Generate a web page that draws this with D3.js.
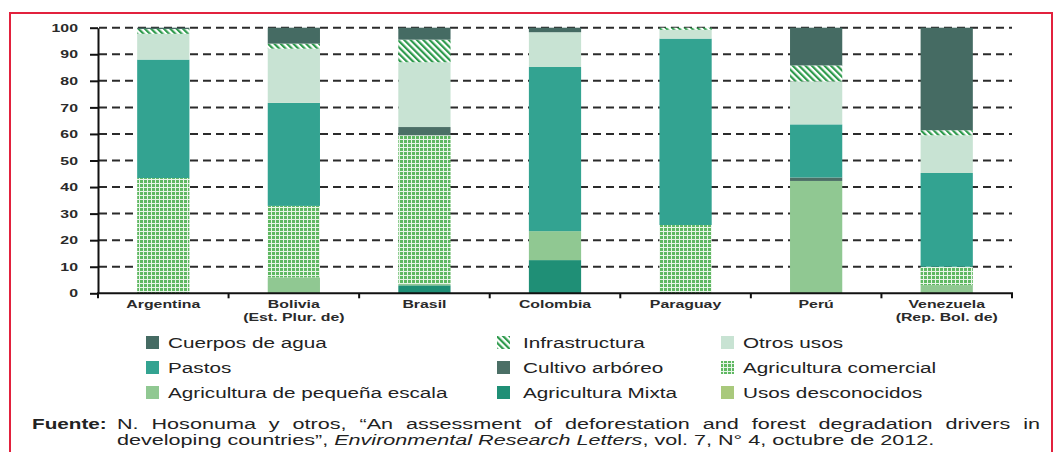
<!DOCTYPE html>
<html>
<head>
<meta charset="utf-8">
<script src="https://cdn.jsdelivr.net/npm/d3@7"></script>
<style>
  body { margin: 0; background: #fff; }
  svg { display: block; font-family: "Liberation Sans", Arial, sans-serif; }
</style>
</head>
<body>
<svg id="chart" width="1063" height="452"></svg>
<script>
// categories and their second label line
var categories = ["Argentina", "Bolivia", "Brasil", "Colombia", "Paraguay", "Perú", "Venezuela"];
var subLabels = ["", "(Est. Plur. de)", "", "", "", "", "(Rep. Bol. de)"];

// series values (percent), bottom to top of stack
var usosDesconocidos   = [0, 0, 0, 0, 0, 0, 0];
var agriMixta          = [0, 0, 3.0, 12.5, 0, 0, 0];
var agriPequena        = [0, 6.0, 0.5, 10.9, 0, 42.3, 3.1];
var agriComercial      = [43.4, 26.9, 56.0, 0, 25.7, 0, 6.9];
var cultivoArboreo     = [0, 0, 3.1, 0, 0, 1.3, 0];
var pastos             = [44.6, 38.8, 0, 61.8, 70.2, 20.0, 35.3];
var otrosUsos          = [9.7, 20.4, 24.4, 13.1, 3.3, 16.2, 14.2];
var infraestructura    = [1.8, 1.9, 8.5, 0, 0.8, 6.0, 1.9];
var cuerposAgua        = [0.5, 6.0, 4.5, 1.7, 0, 14.2, 38.6];

var yTicks = [0, 10, 20, 30, 40, 50, 60, 70, 80, 90, 100];

var series = [
  {key: "desc", name: "Usos desconocidos", values: usosDesconocidos, fill: "#a9c97c"},
  {key: "mixta", name: "Agricultura Mixta", values: agriMixta, fill: "#1f8f76"},
  {key: "peq", name: "Agricultura de pequeña escala", values: agriPequena, fill: "#90c892"},
  {key: "com", name: "Agricultura comercial", values: agriComercial, fill: "url(#gridPat)"},
  {key: "cult", name: "Cultivo arbóreo", values: cultivoArboreo, fill: "#4b6f66"},
  {key: "pastos", name: "Pastos", values: pastos, fill: "#33a391"},
  {key: "otros", name: "Otros usos", values: otrosUsos, fill: "#c8e3d3"},
  {key: "infra", name: "Infrastructura", values: infraestructura, fill: "url(#stripePat)"},
  {key: "agua", name: "Cuerpos de agua", values: cuerposAgua, fill: "#456b63"}
];

// legend layout: rows of three
var legendOrder = [
  ["agua", "infra", "otros"],
  ["pastos", "cult", "com"],
  ["peq", "mixta", "desc"]
];

// the source picture is stretched sideways, so text is too
var S = 1.38;
var S_SRC = 1.44;

var svg = d3.select("#chart");

// patterns
var defs = svg.append("defs");
var gp = defs.append("pattern").attr("id", "gridPat")
  .attr("patternUnits", "userSpaceOnUse").attr("width", 4).attr("height", 4);
gp.append("rect").attr("width", 4).attr("height", 4).attr("fill", "#5fb862");
gp.append("rect").attr("x", 3).attr("width", 1).attr("height", 4).attr("fill", "#e8f5e8");
gp.append("rect").attr("y", 3).attr("width", 4).attr("height", 1).attr("fill", "#e8f5e8");

var sp = defs.append("pattern").attr("id", "stripePat")
  .attr("patternUnits", "userSpaceOnUse").attr("width", 4.5).attr("height", 4.5)
  .attr("patternTransform", "rotate(-45)");
sp.append("rect").attr("width", 4.5).attr("height", 4.5).attr("fill", "#fff");
sp.append("rect").attr("width", 2.2).attr("height", 4.5).attr("fill", "#2e9a4c");

// red frame
svg.append("path")
  .attr("d", "M10,460 L10,13 L1052,13 L1052,460")
  .attr("fill", "none").attr("stroke", "#e2213d").attr("stroke-width", 2);

var x = d3.scaleBand().domain(categories).range([98, 1012])
  .paddingInner(0.6).paddingOuter(0.3);
var y = d3.scaleLinear().domain([0, 100]).range([293.3, 27.7]);

// dashed gridlines
svg.append("g").selectAll("line")
  .data(yTicks.filter(function(d) { return d > 0; }))
  .enter().append("line")
    .attr("x1", 99).attr("x2", 1012)
    .attr("y1", function(d) { return y(d); })
    .attr("y2", function(d) { return y(d); })
    .attr("stroke", "#2b2b2b").attr("stroke-width", 2)
    .attr("stroke-dasharray", "8,5");

// stacked bars
var rows = categories.map(function(c, i) {
  var r = {cat: c};
  series.forEach(function(s) { r[s.key] = s.values[i]; });
  return r;
});
var stack = d3.stack().keys(series.map(function(s) { return s.key; }));
var layers = stack(rows);

svg.append("g").selectAll("g")
  .data(layers)
  .enter().append("g")
    .attr("fill", function(d, i) { return series[i].fill; })
  .selectAll("rect")
  .data(function(d) { return d; })
  .enter().append("rect")
    .attr("x", function(d) { return x(d.data.cat); })
    .attr("width", x.bandwidth())
    .attr("y", function(d) { return y(d[1]); })
    .attr("height", function(d) { return Math.max(0, y(d[0]) - y(d[1])); });

// y axis
var yAxis = svg.append("g")
  .attr("transform", "translate(98,0)")
  .call(d3.axisLeft(y).tickValues(yTicks).tickSize(8).tickSizeOuter(0));
yAxis.select(".domain").attr("stroke", "#111").attr("stroke-width", 2);
yAxis.selectAll(".tick line").attr("stroke", "#111").attr("stroke-width", 2);
yAxis.selectAll(".tick text")
  .attr("x", -20 / S)
  .attr("transform", "scale(" + S + ",1)")
  .attr("fill", "#2a2a2a").style("font-size", "11.5px").style("font-weight", "bold");

// x axis line and boundary ticks
svg.append("line")
  .attr("x1", 97).attr("x2", 1013)
  .attr("y1", y(0)).attr("y2", y(0))
  .attr("stroke", "#111").attr("stroke-width", 2);
svg.append("g").selectAll("line")
  .data(d3.range(categories.length + 1))
  .enter().append("line")
    .attr("x1", function(i) { return 98 + i * x.step(); })
    .attr("x2", function(i) { return 98 + i * x.step(); })
    .attr("y1", y(0)).attr("y2", y(0) + 5)
    .attr("stroke", "#111").attr("stroke-width", 2);

var labels = svg.append("g").selectAll("text")
  .data(categories)
  .enter().append("text")
    .attr("transform", function(d) {
      return "translate(" + (x(d) + x.bandwidth() / 2) + ",307.5) scale(" + S + ",1)";
    })
    .attr("text-anchor", "middle")
    .attr("fill", "#2a2a2a")
    .style("font-size", "11.5px")
    .style("font-weight", "bold");
labels.append("tspan").text(function(d) { return d; });
labels.append("tspan")
  .attr("x", 0)
  .attr("dy", 14)
  .text(function(d, i) { return subLabels[i]; });

// legend
var colX = [[146, 168], [497, 523], [721, 743]];
var rowY = [349, 374, 399];
var byKey = {};
series.forEach(function(s) { byKey[s.key] = s; });
var legendItems = [];
legendOrder.forEach(function(row, ri) {
  row.forEach(function(k, ci) {
    legendItems.push({s: byKey[k], sx: colX[ci][0], tx: colX[ci][1], y: rowY[ri]});
  });
});
var leg = svg.append("g").selectAll("g").data(legendItems).enter().append("g");
leg.append("rect")
  .attr("x", function(d) { return d.sx; })
  .attr("y", function(d) { return d.y - 13; })
  .attr("width", 13).attr("height", 13)
  .attr("fill", function(d) { return d.s.fill; });
leg.append("text")
  .attr("transform", function(d) { return "translate(" + d.tx + "," + (d.y - 1) + ") scale(" + S + ",1)"; })
  .attr("fill", "#222")
  .style("font-size", "15px")
  .text(function(d) { return d.s.name; });

// source note
var src = svg.append("g").attr("fill", "#222").style("font-size", "15px");
src.append("text")
  .attr("transform", "translate(32,429) scale(" + S + ",1)")
  .style("font-weight", "bold").text("Fuente:");
var line1 = src.append("text")
  .attr("transform", "translate(117,429) scale(" + S_SRC + ",1)")
  .text("N. Hosonuma y otros, \u201cAn assessment of deforestation and forest degradation drivers in");
// justify the first line by widening the word gaps
var natural = line1.node().getComputedTextLength();
var gaps = line1.text().split(" ").length - 1;
line1.style("word-spacing", ((1040 - 117) / S_SRC - natural) / gaps + "px");

var l2 = src.append("text").attr("transform", "translate(117,445) scale(" + S_SRC + ",1)");
l2.append("tspan").text("developing countries\u201d, ");
l2.append("tspan").style("font-style", "italic").text("Environmental Research Letters");
l2.append("tspan").text(", vol. 7, N\u00b0 4, octubre de 2012.");
</script>
</body>
</html>
